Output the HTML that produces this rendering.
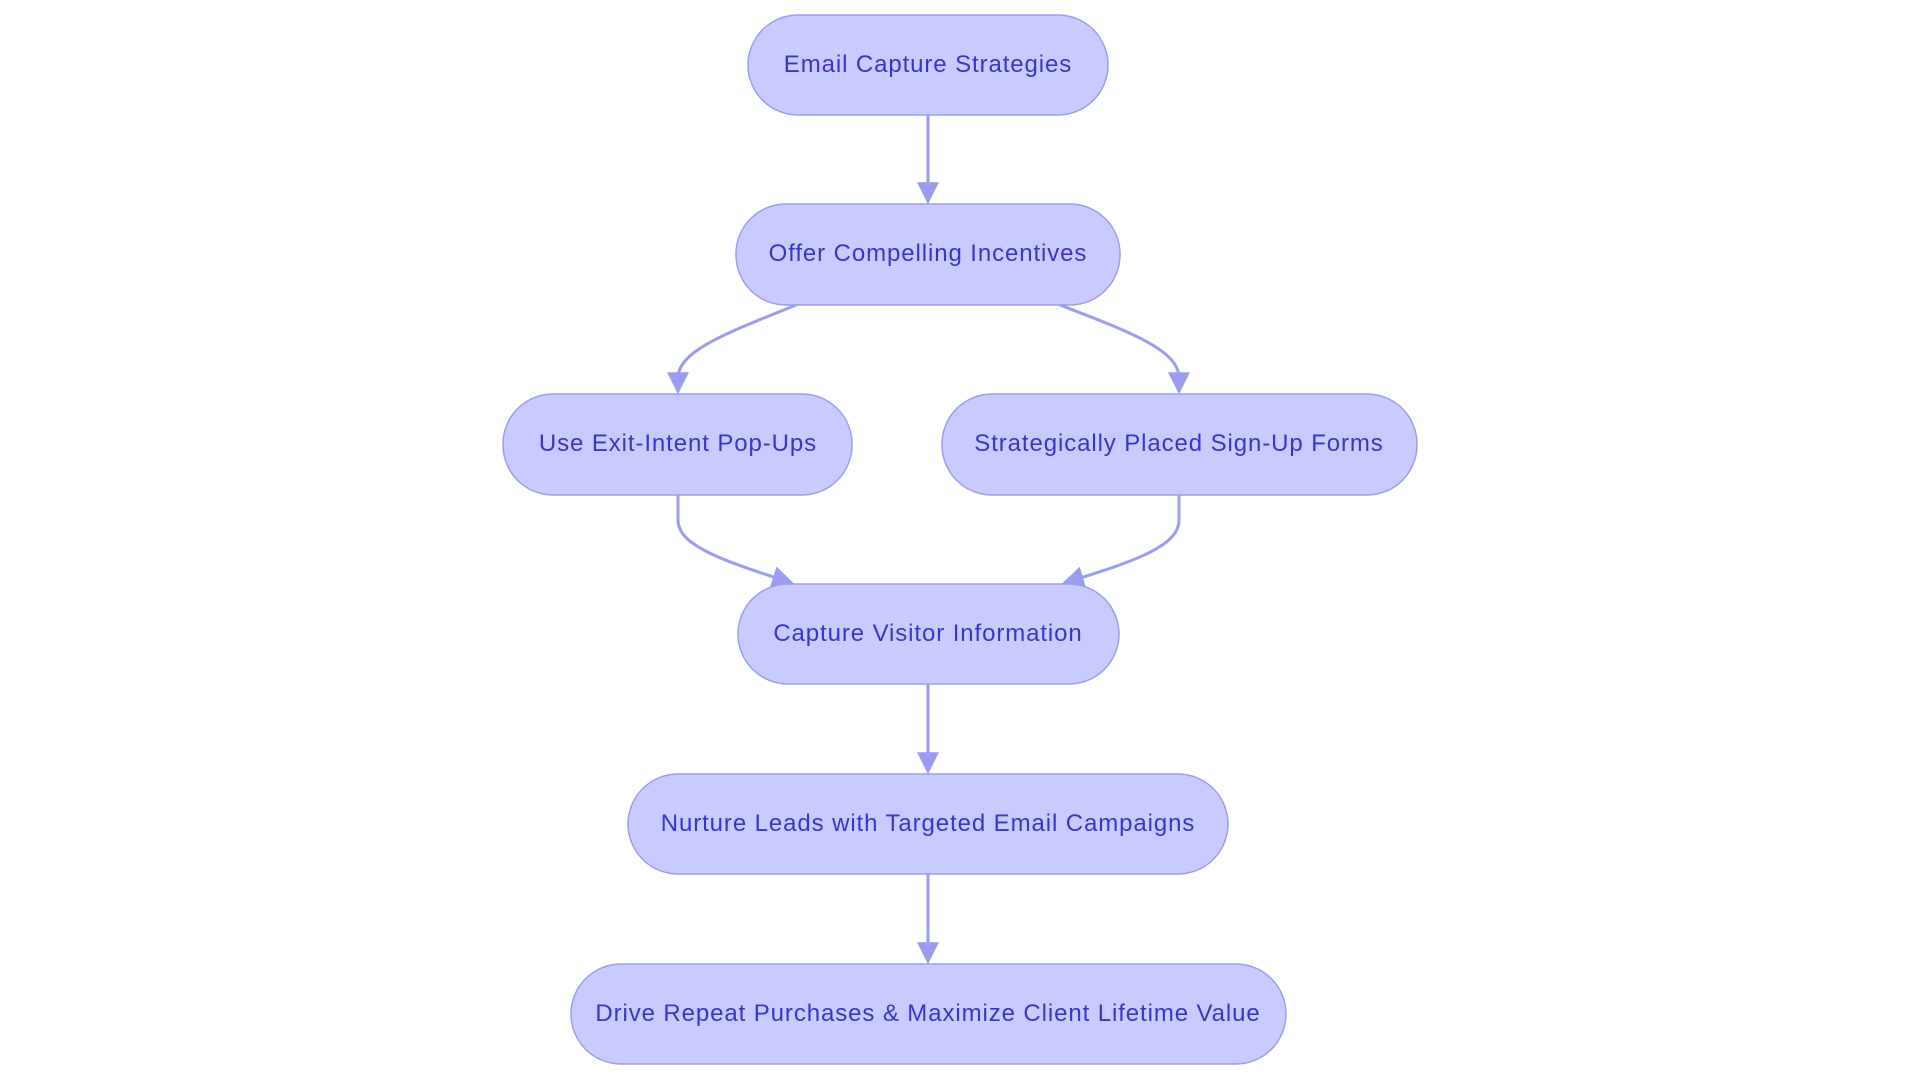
<!DOCTYPE html>
<html><head><style>
html,body{margin:0;padding:0;background:#fff;}
svg text{font-family:"Liberation Sans",sans-serif;font-size:24px;fill:#3a35c9;letter-spacing:0.9px;}
</style></head><body>
<svg width="1920" height="1083" viewBox="0 0 1920 1083" xmlns="http://www.w3.org/2000/svg">
<defs>
<marker id="b" viewBox="0 0 10 10" refX="9" refY="5" markerWidth="22" markerHeight="22" markerUnits="userSpaceOnUse" orient="auto"><path d="M0,0L10,5L0,10z" fill="#9b9ef0"/></marker></defs>
<g fill="none" stroke="#9b9ef0" stroke-width="3" marker-end="url(#b)">
<path d="M928,115V202"/>
<path d="M796,305C730,332 678,350 678,378V392"/>
<path d="M1060,305C1130,332 1179,350 1179,378V392"/>
<path d="M678,495V520C678,545 720,560 792,583"/>
<path d="M1179,495V520C1179,545 1140,560 1064,583"/>
<path d="M928,684V772"/>
<path d="M928,874V962"/>
</g>
<g fill="#c9caff" stroke="#9b9ef0" stroke-width="1.5">
<rect x="748" y="15" width="360" height="100" rx="50"/>
<rect x="736" y="204" width="384" height="101" rx="50"/>
<rect x="503" y="394" width="349" height="101" rx="50"/>
<rect x="942" y="394" width="475" height="101" rx="50"/>
<rect x="738" y="584" width="381" height="100" rx="50"/>
<rect x="628" y="774" width="600" height="100" rx="50"/>
<rect x="571" y="964" width="715" height="100" rx="50"/>
</g>
<g text-anchor="middle">
<text x="928" y="72">Email Capture Strategies</text>
<text x="928" y="261">Offer Compelling Incentives</text>
<text x="678" y="451">Use Exit-Intent Pop-Ups</text>
<text x="1179" y="451">Strategically Placed Sign-Up Forms</text>
<text x="928" y="641">Capture Visitor Information</text>
<text x="928" y="831">Nurture Leads with Targeted Email Campaigns</text>
<text x="928" y="1021">Drive Repeat Purchases &amp; Maximize Client Lifetime Value</text>
</g>
</svg>
</body></html>
